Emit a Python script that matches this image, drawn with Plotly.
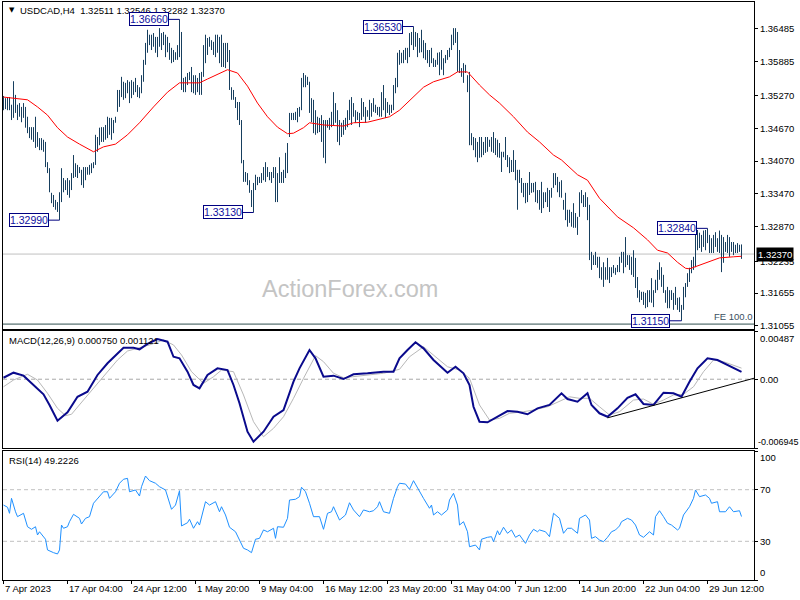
import plotly.graph_objects as go

# ---------------- data ----------------
highs = [
    1.3526, 1.3522, 1.3524, 1.3524, 1.3510, 1.3553, 1.3528, 1.3510, 1.3513, 1.3506,
    1.3513, 1.3506, 1.3488, 1.3469, 1.3469, 1.3469, 1.3488, 1.3460, 1.3449, 1.3449,
    1.3446, 1.3442, 1.3405, 1.3394, 1.3349, 1.3345, 1.3336, 1.3332, 1.3350, 1.3394,
    1.3376, 1.3372, 1.3376, 1.3372, 1.3385, 1.3418, 1.3403, 1.3400, 1.3396, 1.3391,
    1.3396, 1.3396, 1.3396, 1.3400, 1.3403, 1.3405, 1.3455, 1.3451, 1.3468, 1.3469,
    1.3469, 1.3473, 1.3488, 1.3486, 1.3486, 1.3482, 1.3488, 1.3537, 1.3537, 1.3561,
    1.3552, 1.3550, 1.3555, 1.3552, 1.3555, 1.3552, 1.3559, 1.3546, 1.3542, 1.3564,
    1.3592, 1.3623, 1.3647, 1.3638, 1.3638, 1.3641, 1.3634, 1.3634, 1.3650, 1.3641,
    1.3643, 1.3638, 1.3634, 1.3623, 1.3614, 1.3610, 1.3606, 1.3619, 1.3666, 1.3643,
    1.3559, 1.3561, 1.3568, 1.3570, 1.3579, 1.3564, 1.3564, 1.3559, 1.3568, 1.3570,
    1.3619, 1.3638, 1.3632, 1.3634, 1.3628, 1.3625, 1.3638, 1.3638, 1.3634, 1.3638,
    1.3623, 1.3623, 1.3623, 1.3610, 1.3542, 1.3537, 1.3524, 1.3515, 1.3515, 1.3482,
    1.3409, 1.3387, 1.3385, 1.3372, 1.3354, 1.3367, 1.3382, 1.3378, 1.3378, 1.3385,
    1.3396, 1.3405, 1.3396, 1.3387, 1.3387, 1.3396, 1.3396, 1.3385, 1.3414, 1.3387,
    1.3391, 1.3422, 1.3440, 1.3495, 1.3495, 1.3495, 1.3497, 1.3504, 1.3506, 1.3559,
    1.3568, 1.3564, 1.3561, 1.3552, 1.3522, 1.3519, 1.3500, 1.3488, 1.3486, 1.3491,
    1.3482, 1.3482, 1.3482, 1.3486, 1.3497, 1.3533, 1.3513, 1.3500, 1.3482, 1.3477,
    1.3482, 1.3486, 1.3500, 1.3519, 1.3524, 1.3513, 1.3500, 1.3497, 1.3495, 1.3522,
    1.3515, 1.3506, 1.3500, 1.3519, 1.3513, 1.3522, 1.3510, 1.3506, 1.3506, 1.3533,
    1.3546, 1.3522, 1.3515, 1.3510, 1.3510, 1.3546, 1.3559, 1.3605, 1.3610, 1.3605,
    1.3610, 1.3614, 1.3614, 1.3641, 1.3643, 1.3653, 1.3643, 1.3641, 1.3632, 1.3647,
    1.3628, 1.3623, 1.3610, 1.3610, 1.3614, 1.3595, 1.3592, 1.3605, 1.3606, 1.3610,
    1.3595, 1.3601, 1.3610, 1.3614, 1.3638, 1.3650, 1.3650, 1.3643, 1.3610, 1.3577,
    1.3586, 1.3583, 1.3564, 1.3570, 1.3458, 1.3451, 1.3449, 1.3442, 1.3451, 1.3451,
    1.3442, 1.3451, 1.3451, 1.3446, 1.3451, 1.3460, 1.3449, 1.3446, 1.3440, 1.3424,
    1.3424, 1.3451, 1.3418, 1.3414, 1.3409, 1.3427, 1.3409, 1.3391, 1.3391, 1.3376,
    1.3367, 1.3367, 1.3367, 1.3387, 1.3367, 1.3367, 1.3369, 1.3354, 1.3354, 1.3369,
    1.3350, 1.3350, 1.3358, 1.3354, 1.3358, 1.3385, 1.3385, 1.3378, 1.3369, 1.3372,
    1.3336, 1.3349, 1.3318, 1.3318, 1.3314, 1.3330, 1.3312, 1.3305, 1.3350, 1.3354,
    1.3345, 1.3350, 1.3341, 1.3327, 1.3241, 1.3235, 1.3241, 1.3232, 1.3232, 1.3213,
    1.3222, 1.3213, 1.3230, 1.3213, 1.3213, 1.3217, 1.3212, 1.3217, 1.3232, 1.3241,
    1.3241, 1.3268, 1.3235, 1.3235, 1.3232, 1.3244, 1.3230, 1.3195, 1.3171, 1.3168,
    1.3168, 1.3166, 1.3171, 1.3171, 1.3193, 1.3171, 1.3190, 1.3208, 1.3222, 1.3213,
    1.3199, 1.3171, 1.3177, 1.3171, 1.3171, 1.3166, 1.3177, 1.3157, 1.3158, 1.3144,
    1.3177, 1.3184, 1.3202, 1.3212, 1.3226, 1.3232, 1.3277, 1.3281, 1.3276, 1.3272,
    1.3280, 1.3281, 1.3284, 1.3272, 1.3266, 1.3272, 1.3277, 1.3266, 1.3280, 1.3272,
    1.3268, 1.3259, 1.3272, 1.3268, 1.3259, 1.3259, 1.3254, 1.3257, 1.3254, 1.32546,
]
lows = [
    1.3500, 1.3502, 1.3500, 1.3500, 1.3482, 1.3486, 1.3495, 1.3482, 1.3488, 1.3478,
    1.3486, 1.3468, 1.3458, 1.3449, 1.3446, 1.3442, 1.3431, 1.3433, 1.3427, 1.3427,
    1.3424, 1.3396, 1.3385, 1.3350, 1.3330, 1.3323, 1.3318, 1.3314, 1.3299, 1.3332,
    1.3350, 1.3354, 1.3345, 1.3340, 1.3354, 1.3376, 1.3378, 1.3376, 1.3385, 1.3363,
    1.3358, 1.3372, 1.3382, 1.3382, 1.3385, 1.3394, 1.3400, 1.3424, 1.3436, 1.3442,
    1.3442, 1.3446, 1.3449, 1.3455, 1.3446, 1.3458, 1.3477, 1.3497, 1.3506, 1.3524,
    1.3519, 1.3522, 1.3531, 1.3513, 1.3522, 1.3528, 1.3533, 1.3524, 1.3522, 1.3531,
    1.3552, 1.3583, 1.3605, 1.3619, 1.3610, 1.3616, 1.3605, 1.3597, 1.3616, 1.3610,
    1.3619, 1.3597, 1.3606, 1.3592, 1.3586, 1.3588, 1.3592, 1.3592, 1.3597, 1.3537,
    1.3533, 1.3533, 1.3546, 1.3555, 1.3533, 1.3531, 1.3528, 1.3533, 1.3528, 1.3528,
    1.3561, 1.3586, 1.3601, 1.3616, 1.3610, 1.3601, 1.3597, 1.3605, 1.3586, 1.3579,
    1.3579, 1.3577, 1.3588, 1.3537, 1.3519, 1.3519, 1.3504, 1.3482, 1.3473, 1.3403,
    1.3369, 1.3369, 1.3363, 1.3349, 1.3323, 1.3313, 1.3354, 1.3363, 1.3367, 1.3367,
    1.3372, 1.3369, 1.3378, 1.3372, 1.3367, 1.3376, 1.3332, 1.3332, 1.3367, 1.3367,
    1.3367, 1.3376, 1.3385, 1.3451, 1.3482, 1.3482, 1.3482, 1.3478, 1.3488, 1.3500,
    1.3542, 1.3542, 1.3546, 1.3495, 1.3478, 1.3458, 1.3455, 1.3458, 1.3460, 1.3442,
    1.3413, 1.3403, 1.3468, 1.3464, 1.3469, 1.3473, 1.3477, 1.3442, 1.3436, 1.3451,
    1.3455, 1.3464, 1.3469, 1.3482, 1.3473, 1.3488, 1.3477, 1.3482, 1.3469, 1.3482,
    1.3488, 1.3477, 1.3488, 1.3482, 1.3488, 1.3497, 1.3495, 1.3491, 1.3488, 1.3488,
    1.3500, 1.3486, 1.3495, 1.3491, 1.3495, 1.3500, 1.3531, 1.3542, 1.3583, 1.3586,
    1.3586, 1.3592, 1.3586, 1.3597, 1.3619, 1.3610, 1.3616, 1.3597, 1.3605, 1.3606,
    1.3595, 1.3592, 1.3586, 1.3579, 1.3586, 1.3579, 1.3579, 1.3583, 1.3564, 1.3574,
    1.3564, 1.3586, 1.3592, 1.3597, 1.3610, 1.3619, 1.3623, 1.3570, 1.3568, 1.3561,
    1.3550, 1.3568, 1.3533, 1.3436, 1.3436, 1.3427, 1.3414, 1.3405, 1.3413, 1.3414,
    1.3418, 1.3422, 1.3424, 1.3433, 1.3424, 1.3422, 1.3418, 1.3414, 1.3413, 1.3387,
    1.3414, 1.3409, 1.3396, 1.3385, 1.3387, 1.3387, 1.3372, 1.3318, 1.3367, 1.3349,
    1.3341, 1.3330, 1.3332, 1.3345, 1.3349, 1.3350, 1.3332, 1.3330, 1.3318, 1.3312,
    1.3321, 1.3332, 1.3323, 1.3314, 1.3340, 1.3358, 1.3363, 1.3350, 1.3341, 1.3340,
    1.3318, 1.3299, 1.3287, 1.3294, 1.3287, 1.3285, 1.3285, 1.3272, 1.3305, 1.3330,
    1.3323, 1.3323, 1.3299, 1.3226, 1.3208, 1.3217, 1.3217, 1.3212, 1.3193, 1.3190,
    1.3177, 1.3190, 1.3190, 1.3184, 1.3195, 1.3202, 1.3199, 1.3204, 1.3204, 1.3221,
    1.3202, 1.3213, 1.3217, 1.3208, 1.3199, 1.3195, 1.3175, 1.3157, 1.3149, 1.3153,
    1.3144, 1.3138, 1.3140, 1.3149, 1.3148, 1.3140, 1.3166, 1.3171, 1.3190, 1.3177,
    1.3166, 1.3148, 1.3138, 1.3138, 1.3153, 1.3135, 1.3144, 1.3135, 1.3131, 1.3115,
    1.3135, 1.3158, 1.3177, 1.3186, 1.3202, 1.3208, 1.3213, 1.3244, 1.3248, 1.3241,
    1.3250, 1.3244, 1.3257, 1.3239, 1.3239, 1.3239, 1.3250, 1.3241, 1.3239, 1.3204,
    1.3221, 1.3241, 1.3239, 1.3232, 1.3241, 1.3235, 1.3239, 1.3239, 1.3241, 1.32282,
]

ma_idx = [0, 12, 17, 22, 27, 32, 38, 45, 50, 56,
          62, 68, 75, 82, 88, 98, 102, 107, 112, 117,
          122, 127, 132, 137, 142, 145, 150, 153, 160, 170,
          175, 182, 188, 193, 198, 205, 210, 215, 220, 223,
          227, 232, 238, 243, 248, 255, 262, 268, 275, 279,
          287, 292, 298, 307, 315, 322, 327, 332, 337, 341,
          343, 348, 353, 358, 365, 369]
ma_val = [1.3524, 1.3519, 1.3506, 1.3491, 1.3468, 1.3451, 1.3438, 1.3424, 1.3433, 1.3438,
          1.3455, 1.3477, 1.3506, 1.3533, 1.3550, 1.3550, 1.3557, 1.3566, 1.3574, 1.3568,
          1.3544, 1.3513, 1.3488, 1.3469, 1.3457, 1.3458, 1.3468, 1.3477, 1.3473, 1.3471,
          1.3477, 1.3478, 1.3484, 1.3488, 1.3500, 1.3524, 1.3542, 1.3552, 1.3557, 1.3561,
          1.3570, 1.3570, 1.3546, 1.3528, 1.3513, 1.3488, 1.3460, 1.3442, 1.3418, 1.3409,
          1.3382, 1.3372, 1.3339, 1.3305, 1.3285, 1.3263, 1.3244, 1.3239, 1.3222, 1.3211,
          1.3210, 1.3217, 1.3224, 1.3230, 1.3232, 1.3233]

macd_idx = [0, 5, 10, 15, 20, 23, 27, 32, 37, 42,
            47, 52, 57, 60, 65, 68, 72, 77, 82, 85,
            88, 92, 95, 98, 102, 107, 112, 115, 118, 122,
            125, 130, 135, 140, 145, 148, 153, 156, 160, 165,
            170, 175, 182, 190, 195, 198, 202, 206, 210, 215,
            222, 226, 230, 233, 235, 238, 242, 247, 252, 257,
            262, 267, 273, 279, 282, 287, 292, 294, 298, 302,
            307, 312, 316, 320, 325, 330, 335, 339, 343, 347,
            352, 357, 362, 369]
macd_val = [0.00015, 0.00066, 0.00036, -0.00058, -0.00152, -0.00260, -0.00419, -0.00334, -0.00177, -0.00126,
            0.00043, 0.00161, 0.00262, 0.00318, 0.00318, 0.00302, 0.00356, 0.00406, 0.00379, 0.00227,
            0.00211, 0.00076, -0.00058, -0.00092, 0.00043, 0.00110, 0.00093, -0.00058, -0.00243, -0.00530,
            -0.00631, -0.00530, -0.00379, -0.00311, -0.00025, 0.00110, 0.00295, 0.00211, 0.00025, 0.00036,
            0.00002, 0.00050, 0.00060, 0.00076, 0.00076, 0.00211, 0.00295, 0.00373, 0.00312, 0.00194,
            0.00066, 0.00126, 0.00060, -0.00058, -0.00278, -0.00429, -0.00435, -0.00379, -0.00321, -0.00328,
            -0.00354, -0.00294, -0.00260, -0.00142, -0.00200, -0.00227, -0.00142, -0.00260, -0.00344, -0.00379,
            -0.00294, -0.00187, -0.00152, -0.00250, -0.00260, -0.00136, -0.00142, -0.00177, -0.00025, 0.00110,
            0.00211, 0.00194, 0.00144, 0.00075]

sig_idx = [0, 5, 12, 17, 22, 27, 31, 34, 40, 47,
           52, 57, 62, 68, 73, 80, 85, 89, 94, 100,
           105, 109, 115, 120, 125, 130, 135, 140, 145, 150,
           156, 160, 165, 170, 175, 182, 190, 198, 203, 210,
           215, 222, 228, 233, 238, 243, 248, 253, 260, 265,
           272, 278, 283, 288, 293, 298, 303, 308, 315, 320,
           325, 330, 335, 340, 345, 350, 355, 360, 365, 369]
sig_val = [-0.00076, -0.00008, 0.00050, -0.00008, -0.00142, -0.00294, -0.00368, -0.00354, -0.00210, -0.00041,
           0.00076, 0.00194, 0.00285, 0.00318, 0.00346, 0.00396, 0.00346, 0.00245, 0.00076, -0.00041,
           0.00025, 0.00093, 0.00076, -0.00159, -0.00429, -0.00581, -0.00496, -0.00379, -0.00193, 0.00009,
           0.00238, 0.00177, 0.00060, 0.00015, 0.00025, 0.00043, 0.00060, 0.00100, 0.00227, 0.00328,
           0.00245, 0.00126, 0.00093, 0.00009, -0.00260, -0.00412, -0.00395, -0.00344, -0.00328, -0.00311,
           -0.00278, -0.00220, -0.00177, -0.00193, -0.00193, -0.00278, -0.00361, -0.00328, -0.00210, -0.00200,
           -0.00253, -0.00210, -0.00159, -0.00152, -0.00076, 0.00076, 0.00194, 0.00177, 0.00137, 0.00112]

rsi_idx = [0, 2, 3, 4, 6, 7, 10, 12, 14, 16,
           17, 18, 21, 22, 25, 27, 28, 29, 30, 32,
           33, 35, 38, 39, 41, 43, 45, 48, 50, 52,
           53, 56, 58, 60, 62, 63, 66, 68, 69, 71,
           73, 76, 78, 81, 82, 84, 86, 88, 89, 92,
           93, 95, 97, 98, 101, 103, 106, 108, 109, 111,
           113, 116, 118, 120, 122, 124, 126, 128, 130, 132,
           135, 136, 137, 140, 142, 143, 146, 148, 149, 151,
           153, 155, 158, 160, 162, 164, 165, 168, 171, 173,
           175, 178, 180, 183, 185, 187, 188, 190, 193, 195,
           197, 198, 201, 203, 205, 208, 210, 213, 214, 215,
           217, 219, 222, 223, 225, 227, 228, 230, 232, 233,
           236, 238, 239, 242, 244, 245, 247, 248, 250, 252,
           254, 256, 258, 261, 263, 265, 267, 268, 271, 273,
           275, 278, 280, 282, 284, 287, 288, 291, 293, 294,
           296, 298, 300, 302, 304, 306, 308, 309, 312, 314,
           316, 318, 320, 323, 325, 326, 328, 330, 332, 334,
           337, 338, 340, 343, 345, 346, 348, 351, 353, 354,
           357, 358, 361, 363, 365, 368, 369]
rsi_val = [58.1, 56.4, 51.7, 63.3, 52.9, 49.1, 51.7, 41.3, 39.3, 41.3,
           34.9, 37.4, 31.6, 23.3, 21.2, 20.2, 23.3, 42.6, 40.1, 41.3,
           45.2, 50.9, 47.8, 43.4, 47.8, 49.1, 59.5, 64.6, 68.4, 68.4,
           63.3, 68.4, 75.0, 78.1, 78.8, 68.4, 69.8, 65.1, 72.3, 80.6,
           77.0, 75.0, 72.3, 69.8, 64.6, 54.8, 58.1, 69.2, 41.9, 44.4,
           47.1, 40.1, 45.2, 42.6, 60.7, 58.1, 60.7, 52.9, 56.8, 50.4,
           40.9, 37.4, 31.0, 24.6, 23.3, 21.2, 31.6, 32.3, 38.8, 37.4,
           40.1, 32.3, 41.3, 40.9, 47.8, 62.0, 62.6, 64.6, 71.9, 68.4,
           59.5, 49.1, 49.1, 39.3, 51.7, 52.9, 56.8, 46.5, 50.4, 59.9,
           54.3, 49.1, 54.3, 52.9, 53.7, 56.8, 60.7, 52.9, 51.7, 63.3,
           72.3, 75.0, 74.4, 70.3, 77.0, 68.4, 63.3, 55.6, 58.1, 50.4,
           52.9, 50.4, 54.3, 62.0, 67.2, 58.1, 42.6, 45.2, 37.4, 25.8,
           27.1, 23.3, 31.6, 33.1, 33.6, 29.7, 38.2, 34.9, 40.9, 36.2,
           38.8, 33.1, 34.9, 28.4, 34.9, 39.3, 37.4, 38.8, 37.4, 33.6,
           51.7, 47.8, 36.2, 40.1, 40.1, 36.2, 47.8, 50.4, 46.5, 32.3,
           33.6, 31.0, 29.7, 33.1, 37.4, 38.8, 41.9, 45.2, 47.8, 46.5,
           42.6, 34.9, 33.1, 37.4, 34.9, 49.1, 53.7, 49.1, 44.0, 42.6,
           38.8, 40.1, 50.4, 56.8, 63.3, 69.8, 64.6, 65.9, 63.3, 59.5,
           60.7, 52.9, 52.9, 56.8, 52.9, 53.7, 49.2]

swing_idx = [88, 28, 125, 205, 352, 339]
swing_val = [1.36660, 1.32990, 1.33130, 1.36530, 1.32840, 1.31150]

symbol = "USDCAD,H4"
header_ohlc = [1.32511, 1.32546, 1.32282, 1.32370]
last_price = 1.32370
fe_level = 1.3109
fe_label = "FE 100.0"
price_ticks = [1.36485, 1.35885, 1.35270, 1.34670, 1.34070, 1.33470, 1.32870, 1.32235, 1.31655, 1.31055]
macd_top, macd_bottom = 0.00487, -0.006945
macd_now, signal_now = 0.000750, 0.001121
rsi_now = 49.2226
rsi_levels = [70, 30]
trend_idx = [302, 375.25]
trend_val = [-0.0039, 0.0001]
date_idx = [0, 32, 64, 96, 128, 160, 192, 224, 256, 288, 320, 352]
date_labels = ["7 Apr 2023", "17 Apr 04:00", "24 Apr 12:00", "1 May 20:00", "9 May 04:00",
               "16 May 12:00", "23 May 20:00", "31 May 04:00", "7 Jun 12:00", "14 Jun 20:00",
               "22 Jun 04:00", "29 Jun 12:00"]
watermark = "ActionForex.com"

# ---------------- layout helpers ----------------
W, H = 800, 600
ML, MR, MT, MB = 3, 46, 2, 20
PW, PH = W - ML - MR, H - MT - MB


def xp(px):
    return (px - ML) / PW


def yp(py):
    return (H - MB - py) / PH


FONT = "Liberation Sans"
BAR_COLOR = "#173f5f"
NAVY = "#000080"
X_RANGE = [-0.25, -0.25 + PW / 2.0]

fig = go.Figure()

# OHLC bars (high-low vertical strokes)
bx, by = [], []
for i, (h, l) in enumerate(zip(highs, lows)):
    bx += [i, i, None]
    by += [l, h, None]
fig.add_trace(go.Scatter(x=bx, y=by, mode="lines", line=dict(color=BAR_COLOR, width=1),
                         xaxis="x", yaxis="y", hoverinfo="skip"))
# moving average
fig.add_trace(go.Scatter(x=ma_idx, y=ma_val, mode="lines", line=dict(color="#ff0000", width=1),
                         xaxis="x", yaxis="y", hoverinfo="skip"))
# MACD
fig.add_trace(go.Scatter(x=sig_idx, y=sig_val, mode="lines", line=dict(color="#b8b8b8", width=1),
                         xaxis="x2", yaxis="y2", hoverinfo="skip"))
fig.add_trace(go.Scatter(x=macd_idx, y=macd_val, mode="lines", line=dict(color="#0a0a8c", width=2),
                         xaxis="x2", yaxis="y2", hoverinfo="skip"))
fig.add_trace(go.Scatter(x=trend_idx, y=trend_val, mode="lines", line=dict(color="black", width=1),
                         xaxis="x2", yaxis="y2", hoverinfo="skip"))
# RSI
fig.add_trace(go.Scatter(x=rsi_idx, y=rsi_val, mode="lines", line=dict(color="#1e90ff", width=1),
                         xaxis="x3", yaxis="y3", hoverinfo="skip"))

shapes = [
    dict(type="line", xref="x", yref="y", x0=X_RANGE[0], x1=X_RANGE[1], y0=last_price, y1=last_price,
         line=dict(color="#c0c0c0", width=1), layer="below"),
    dict(type="line", xref="x", yref="y", x0=X_RANGE[0], x1=X_RANGE[1], y0=fe_level, y1=fe_level,
         line=dict(color="#2f4f4f", width=1)),
    dict(type="line", xref="x2", yref="y2", x0=X_RANGE[0], x1=X_RANGE[1], y0=0, y1=0,
         line=dict(color="#a8a8a8", width=1, dash="4px,3px"), layer="below"),
]
for lv in rsi_levels:
    shapes.append(dict(type="line", xref="x3", yref="y3", x0=X_RANGE[0], x1=X_RANGE[1], y0=lv, y1=lv,
                       line=dict(color="#c0c0c0", width=1, dash="4px,3px"), layer="below"))

ann = []
# header
ann.append(dict(xref="paper", yref="paper", x=xp(6.5), y=yp(10.5), xanchor="left", yanchor="middle",
                text="▼", showarrow=False, font=dict(family="DejaVu Sans", size=7, color="black")))
ann.append(dict(xref="paper", yref="paper", x=xp(17.5), y=yp(10.7), xanchor="left", yanchor="middle",
                text=symbol + "  " + " ".join(f"{v:.5f}" for v in header_ohlc), showarrow=False,
                font=dict(family=FONT, size=9.5, color="black")))
ann.append(dict(xref="paper", yref="paper", x=xp(6.5), y=yp(340.7), xanchor="left", yanchor="middle",
                text=f"MACD(12,26,9) {macd_now:.6f} {signal_now:.6f}", showarrow=False,
                font=dict(family=FONT, size=9.5, color="black")))
ann.append(dict(xref="paper", yref="paper", x=xp(6.5), y=yp(460), xanchor="left", yanchor="middle",
                text=f"RSI(14) {rsi_now:.4f}", showarrow=False,
                font=dict(family=FONT, size=9.5, color="black")))
# watermark
ann.append(dict(xref="paper", yref="paper", x=xp(350), y=yp(289), xanchor="center", yanchor="middle",
                text=watermark, showarrow=False, font=dict(family=FONT, size=23.5, color="#c4c4c4")))
# swing labels
for si, sv in zip(swing_idx, swing_val):
    ann.append(dict(xref="x", yref="y", x=si, y=sv, text=f"{sv:.5f}", showarrow=True, arrowhead=0,
                    arrowwidth=1, arrowcolor=NAVY, ax=-31, ay=0, standoff=0,
                    bordercolor=NAVY, borderwidth=1, borderpad=0, bgcolor="white",
                    font=dict(family=FONT, size=10.5, color="#1010a0")))
# FE label
ann.append(dict(xref="paper", yref="y", x=1, y=fe_level, xanchor="right", yanchor="bottom", xshift=1,
                yshift=0, text=fe_label, showarrow=False, font=dict(family=FONT, size=9.5, color="#3b4f5f")))
# current price box
ann.append(dict(xref="paper", yref="y", x=1, y=last_price, xanchor="left", yanchor="middle", xshift=2,
                text=f"{last_price:.5f}", showarrow=False, bgcolor="black", borderpad=1,
                font=dict(family=FONT, size=9.5, color="white")))
# edge labels of indicator scales
for txt, py, fs, sh in [(f"{macd_top:.5f}", 338.3, 9.5, 4), (f"{macd_bottom:.6f}", 441.7, 9, 2),
                        ("100", 457, 9.5, 4), ("0", 572, 9.5, 4)]:
    ann.append(dict(xref="paper", yref="paper", x=1, y=yp(py), xanchor="left", yanchor="middle", xshift=sh,
                    text=txt, showarrow=False, font=dict(family=FONT, size=fs, color="black")))
# date labels
for di, dl in zip(date_idx, date_labels):
    ann.append(dict(xref="x3", yref="paper", x=di, y=yp(588.5), xanchor="left", yanchor="middle", xshift=-1,
                    text=dl, showarrow=False, font=dict(family=FONT, size=9.5, color="black")))

axis_common = dict(showgrid=False, zeroline=False, showline=True, linecolor="black", linewidth=1,
                   mirror=True, fixedrange=True)

fig.update_layout(
    width=W, height=H, margin=dict(l=ML, r=MR, t=MT, b=MB, pad=0, autoexpand=False),
    paper_bgcolor="white", plot_bgcolor="white", showlegend=False,
    font=dict(family=FONT, size=9.5, color="black"),
    shapes=shapes, annotations=ann,
    xaxis=dict(domain=[0, 1], range=X_RANGE, anchor="y", showticklabels=False, ticks="", **axis_common),
    xaxis2=dict(domain=[0, 1], range=X_RANGE, anchor="y2", matches="x", showticklabels=False, ticks="",
                **axis_common),
    xaxis3=dict(domain=[0, 1], range=X_RANGE, anchor="y3", matches="x", showticklabels=False,
                tickmode="array", tickvals=date_idx, ticks="outside", ticklen=3, tickcolor="black",
                **axis_common),
    yaxis=dict(domain=[yp(329), 1], range=[1.31000, 1.36978], anchor="x", side="right",
               tickmode="array", tickvals=price_ticks, ticktext=[f"{v:.5f}" for v in price_ticks],
               ticks="outside", ticklen=3, tickcolor="black", **axis_common),
    yaxis2=dict(domain=[yp(448), yp(331)], range=[macd_bottom, macd_top], anchor="x2", side="right",
                tickmode="array", tickvals=[macd_top, 0, macd_bottom], ticktext=["", "0.00", ""],
                ticks="outside", ticklen=3, tickcolor="black", **axis_common),
    yaxis3=dict(domain=[0, yp(451)], range=[0, 100], anchor="x3", side="right",
                tickmode="array", tickvals=[100, 70, 30, 0], ticktext=["", "70", "30", ""],
                ticks="outside", ticklen=3, tickcolor="black", **axis_common),
)

fig.write_html("out.html", config={"displayModeBar": False},
               post_script="document.body.style.margin='0px';document.body.style.padding='0px';")
